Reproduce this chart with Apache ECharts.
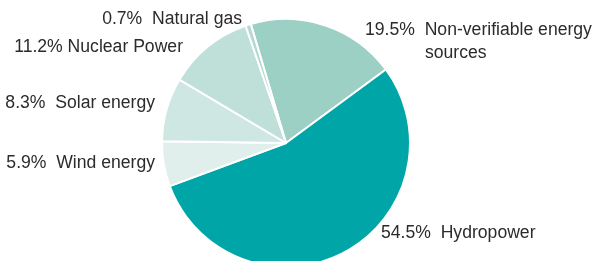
<!DOCTYPE html>
<html>
<head>
<meta charset="utf-8">
<script src="https://cdn.jsdelivr.net/npm/echarts@6/dist/echarts.min.js"></script>
<style>
  html, body { margin: 0; padding: 0; background: #fff; }
  #chart { width: 593px; height: 261px; }
</style>
</head>
<body>
<div id="chart"></div>
<script>
// data, clockwise from the top
var sources = ['Non-verifiable energy\nsources', 'Hydropower', 'Wind energy', 'Solar energy', 'Nuclear Power', 'Natural gas'];
var shares = [19.5, 54.5, 5.9, 8.3, 11.2, 0.7];
var colors = ['#9dd0c4', '#00a5a8', '#e0efec', '#cfe7e2', '#bfe0d9', '#b3dad1'];

// where each label sits (x, y, align)
var labelSpots = [
  { x: 365, y: 19, align: 'left', verticalAlign: 'top' },
  { x: 381, y: 233, align: 'left', verticalAlign: 'middle' },
  { x: 155, y: 163, align: 'right', verticalAlign: 'middle' },
  { x: 155, y: 103, align: 'right', verticalAlign: 'middle' },
  { x: 183, y: 47, align: 'right', verticalAlign: 'middle' },
  { x: 242, y: 19, align: 'right', verticalAlign: 'middle' }
];

var chart = echarts.init(document.getElementById('chart'));

var pieData = sources.map(function (s, i) {
  return { name: s, value: shares[i], itemStyle: { color: colors[i] } };
});

chart.setOption({
  animation: false,
  textStyle: { fontFamily: 'Liberation Sans' },
  series: [{
    type: 'pie',
    center: [286, 143],
    radius: 124,
    startAngle: 106.5,
    clockwise: true,
    avoidLabelOverlap: false,
    itemStyle: { borderColor: '#fff', borderWidth: 2 },
    label: {
      show: true,
      position: 'outside',
      color: '#2b2b2b',
      fontSize: 17.6,
      fontFamily: 'Liberation Sans',
      lineHeight: 23,
      formatter: function (p) {
        var sep = p.name === 'Nuclear Power' ? ' ' : '  ';
        var lines = p.name.split('\n');
        var txt = p.value + '%' + sep + lines[0];
        for (var i = 1; i < lines.length; i++) {
          txt += '\n{i|\u00a0}' + lines[i];
        }
        return txt;
      },
      rich: {
        i: { width: 60, fontSize: 17.6, lineHeight: 23 }
      }
    },
    labelLine: { show: false },
    labelLayout: function (params) {
      return labelSpots[params.dataIndex];
    },
    emphasis: { disabled: true },
    data: pieData
  }]
});
</script>
</body>
</html>
